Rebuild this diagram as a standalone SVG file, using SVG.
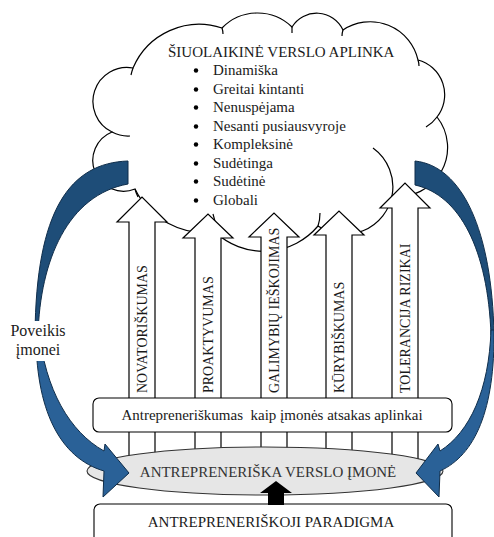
<svg xmlns="http://www.w3.org/2000/svg" width="494" height="537" viewBox="0 0 494 537">
<style>
text { font-family: "Liberation Serif", "Times New Roman", serif; fill: #1a1a1a; }
.t15 { font-size: 15px; }
.v { font-size: 14px; }
.cloud { fill: #fff; stroke: #000; stroke-width: 1.2; }
.tick { fill: none; stroke: #000; stroke-width: 1.2; }
.varrow { fill: #fff; stroke: #000; stroke-width: 1.2; }
.box { fill: #fff; stroke: #000; stroke-width: 1.1; }
.bdark { fill: #1e4d78; stroke: #0f2d4a; stroke-width: 1; }
.blight { fill: #2a6197; stroke: #0f2d4a; stroke-width: 1; }
.dot { fill: #000; }
</style>

<g id="cloud">
  <path class="cloud" d="M135,189 A30.5,30.5 0 0,1 112,132 A34,34 0 0,1 133,68 A72,72 0 0,1 222,28 A49.5,49.5 0 0,1 292,27 A29,29 0 0,1 343,30 A49,49 0 0,1 418,60 A36,36 0 0,1 437,117 A49,49 0 0,1 392,196 A48,48 0 0,1 318,226 A71,71 0 0,1 215,232 A78,78 0 0,1 135,189 Z"/>
  <path class="tick" d="M112,132 A34,34 0 0,0 130,136 M133,68 A72,72 0 0,0 131,75 M222,28 Q223,31 223,34 M292,27 Q292,30 292,33 M343,30 Q342,33 342,36 M418,60 Q419,63 419,66 M437,117 A36,36 0 0,1 426,127 M392,196 A48,48 0 0,0 373,148 M215,231 Q216,222 213,214 M318,226 Q320,220 320,213 M135,189 Q136,193 138,197"/>
  <text class="t15" x="168" y="57">ŠIUOLAIKINĖ VERSLO APLINKA</text>
  <g>
    <circle class="dot" cx="196" cy="70.5" r="2.2"/><text class="t15" x="213" y="75">Dinamiška</text>
    <circle class="dot" cx="196" cy="89.5" r="2.2"/><text class="t15" x="213" y="94">Greitai kintanti</text>
    <circle class="dot" cx="196" cy="107.5" r="2.2"/><text class="t15" x="213" y="112">Nenuspėjama</text>
    <circle class="dot" cx="196" cy="126.5" r="2.2"/><text class="t15" x="213" y="131">Nesanti pusiausvyroje</text>
    <circle class="dot" cx="196" cy="144.5" r="2.2"/><text class="t15" x="213" y="149">Kompleksinė</text>
    <circle class="dot" cx="196" cy="163.5" r="2.2"/><text class="t15" x="213" y="168">Sudėtinga</text>
    <circle class="dot" cx="196" cy="181.5" r="2.2"/><text class="t15" x="213" y="186">Sudėtinė</text>
    <circle class="dot" cx="196" cy="200.5" r="2.2"/><text class="t15" x="213" y="205">Globali</text>
  </g>
</g>

<g id="arrow-novatoriskumas">
  <polygon class="varrow" points="129,465 129,222 117,222 142,197 167,222 155,222 155,465"/>
  <text class="v" transform="translate(146.7,393) rotate(-90)">NOVATORIŠKUMAS</text>
</g>
<g id="arrow-proaktyvumas">
  <polygon class="varrow" points="195,465 195,238 183,238 208,214 233,238 221,238 221,465"/>
  <text class="v" transform="translate(212.7,393) rotate(-90)">PROAKTYVUMAS</text>
</g>
<g id="arrow-galimybiu">
  <polygon class="varrow" points="261,465 261,237 249,237 274,213 299,237 287,237 287,465"/>
  <text class="v" transform="translate(278.7,393) rotate(-90)">GALIMYBIŲ IEŠKOJIMAS</text>
</g>
<g id="arrow-kurybiskumas">
  <polygon class="varrow" points="326,465 326,235 314,235 339,211 364,235 352,235 352,465"/>
  <text class="v" transform="translate(343.7,393) rotate(-90)">KŪRYBIŠKUMAS</text>
</g>
<g id="arrow-tolerancija">
  <polygon class="varrow" points="392,465 392,208 380,208 405,183 430,208 418,208 418,465"/>
  <text class="v" transform="translate(409.7,393) rotate(-90)">TOLERANCIJA RIZIKAI</text>
</g>

<g id="atsakas">
  <rect class="box" x="93" y="398" width="359" height="34" rx="6"/>
  <text class="t15" x="272" y="420" text-anchor="middle" xml:space="preserve">Antrepreneriškumas  kaip įmonės atsakas aplinkai</text>
</g>

<g id="imone">
  <ellipse cx="265" cy="471" rx="178" ry="24" fill="#e6e6e6" stroke="#333" stroke-width="1.1"/>
  <text class="t15" x="268" y="477" text-anchor="middle" style="fill:#333">ANTREPRENERIŠKA VERSLO ĮMONĖ</text>
</g>

<g id="paradigma">
  <rect class="box" x="94" y="504" width="358" height="42" rx="6"/>
  <text class="t15" x="271" y="527" text-anchor="middle">ANTREPRENERIŠKOJI PARADIGMA</text>
</g>

<g id="connectors">
  <g id="left-curved-arrow">
    <path class="bdark" d="M128,161 C70,163 36,210 35,335 L38,335 C40,260 68,195 128,184 Z"/>
    <path class="blight" d="M36,330 C35,410 60,458 104,471 L103,497 L129,473 L105,444 L104,451 C70,432 45,390 39,330 Z"/>
    <rect x="4" y="321" width="68" height="40" fill="#fff"/>
    <text x="38" y="336" text-anchor="middle" style="font-size:16px">Poveikis</text>
    <text x="38" y="355" text-anchor="middle" style="font-size:16px">įmonei</text>
  </g>
  <g id="right-curved-arrow">
    <path class="bdark" d="M415,161 C462,166 492,230 494,335 L491,335 C488,250 460,195 415,185 Z"/>
    <path class="blight" d="M494,330 C495,410 475,455 440,471 L439,497 L416,473 L438,444 L440,451 C470,432 489,390 491,330 Z"/>
  </g>
  <polygon id="paradigm-arrow" points="268,505 268,493 260,493 276,481 292,493 284,493 284,505" fill="#000"/>
</g>
</svg>
